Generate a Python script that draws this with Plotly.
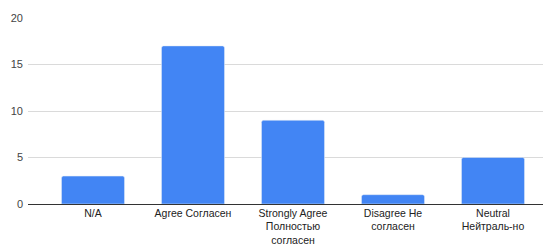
import plotly.graph_objects as go

categories = ["N/A", "Agree Согласен", "Strongly Agree<br>Полностью<br>согласен", "Disagree Не<br>согласен", "Neutral<br>Нейтраль-но"]
values = [3, 17, 9, 1, 5]
y_ticks = [0, 5, 10, 15, 20]

fig = go.Figure(go.Bar(x=categories, y=values, marker_color="#4285f4", width=0.63))
fig.update_layout(
    width=543, height=240,
    margin=dict(l=20, r=3, t=10, b=44),
    plot_bgcolor="white", paper_bgcolor="white",
    font=dict(family="Liberation Sans, Arial, sans-serif", size=10.5, color="#222"),
    showlegend=False,
    barcornerradius=2,
)
fig.update_xaxes(range=[-0.65, 4.55], showgrid=False, ticks="", tickfont=dict(size=10.5, color="#222"),
                 showline=True, linecolor="#333", linewidth=1, automargin=False, ticklabelstandoff=-1)
fig.update_yaxes(range=[0, 20], tickvals=y_ticks, showgrid=True, gridcolor="#dadada", zeroline=False,
                 tickfont=dict(size=11, color="#444"), ticklabelstandoff=4, automargin=False)
fig.write_html("out.html")
